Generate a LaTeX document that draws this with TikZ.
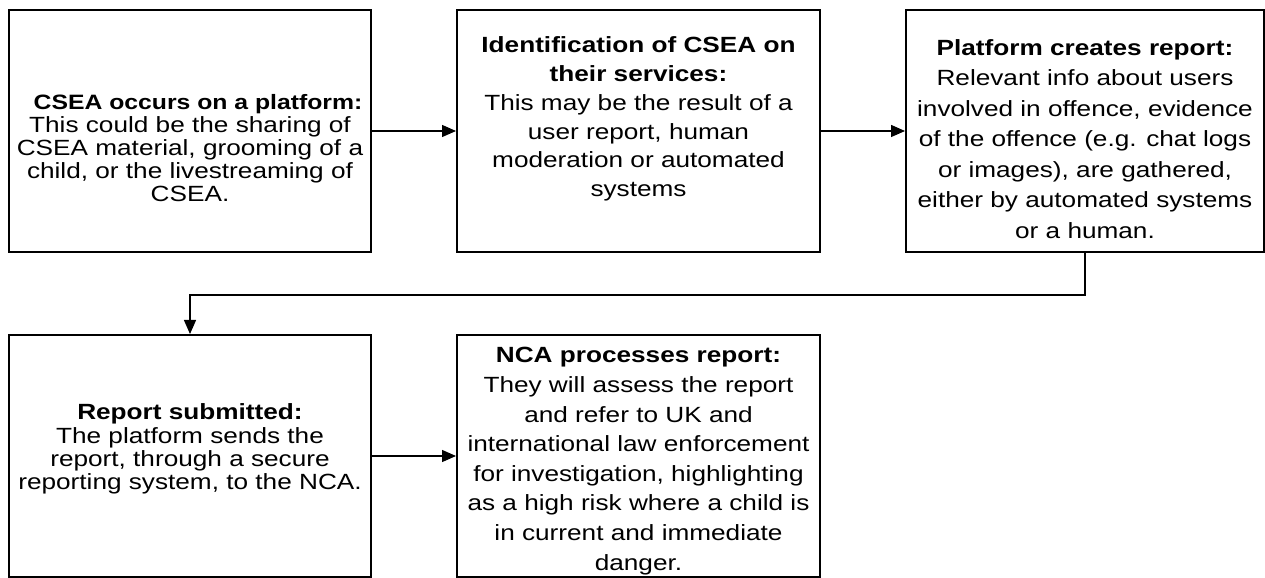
\documentclass[tikz,border=0pt]{standalone}
\usepackage{fontspec}
\setmainfont{Liberation Sans}[FakeStretch=1.19]
\usetikzlibrary{arrows.meta}
\tikzset{
  box/.style={draw=black, line width=2bp, minimum width=#1, minimum height=242bp, inner sep=0pt},
  txt/.style={align=center, inner sep=0pt, font=\fontsize{22bp}{#1}\selectfont},
  conn/.style={draw=black, line width=1.4bp, -{Triangle[length=14bp,width=12bp]}}
}
\begin{document}
\begin{tikzpicture}[x=1bp,y=-1bp]
\useasboundingbox (0,0) rectangle (1265,578);
\node[box=362bp] (b1) at (190,131) {};
\node[box=363bp] (b2) at (638.5,131) {};
\node[box=358bp] (b3) at (1085,131) {};
\node[box=362bp] (b4) at (190,456) {};
\node[box=363bp] (b5) at (638.5,456) {};
\node[txt=23.2bp] (t1) at (190,148) {\hspace*{16bp}{\fontsize{20.8bp}{23.2bp}\selectfont\textbf{CSEA occurs on a platform:}}\\This could be the sharing of\\CSEA material, grooming of a\\child, or the livestreaming of\\CSEA.};
\node[txt=28.8bp] (t2) at (638.5,119) {\textbf{Identification of CSEA on}\\\textbf{their services:}\\This may be the result of a\\user report, human\\moderation or automated\\systems};
\node[txt=30.5bp] (t3) at (1085,139) {\textbf{Platform creates report:}\\Relevant info about users\\involved in offence, evidence\\of the offence (e.g. chat logs\\or images), are gathered,\\either by automated systems\\or a human.};
\node[txt=23.3bp] (t4) at (190,449) {\textbf{Report submitted:}\\The platform sends the\\report, through a secure\\reporting system, to the NCA.};
\node[txt=29.6bp] (t5) at (638.5,461) {\textbf{NCA processes report:}\\They will assess the report\\and refer to UK and\\international law enforcement\\for investigation, highlighting\\as a high risk where a child is\\in current and immediate\\danger.};
\draw[conn] (b1.east) -- (b2.west);
\draw[conn] (b2.east) -- (b3.west);
\draw[conn] (b3.south) -- ++(0,42) -| (b4.north);
\draw[conn] (b4.east) -- (b5.west);
\end{tikzpicture}
\end{document}
